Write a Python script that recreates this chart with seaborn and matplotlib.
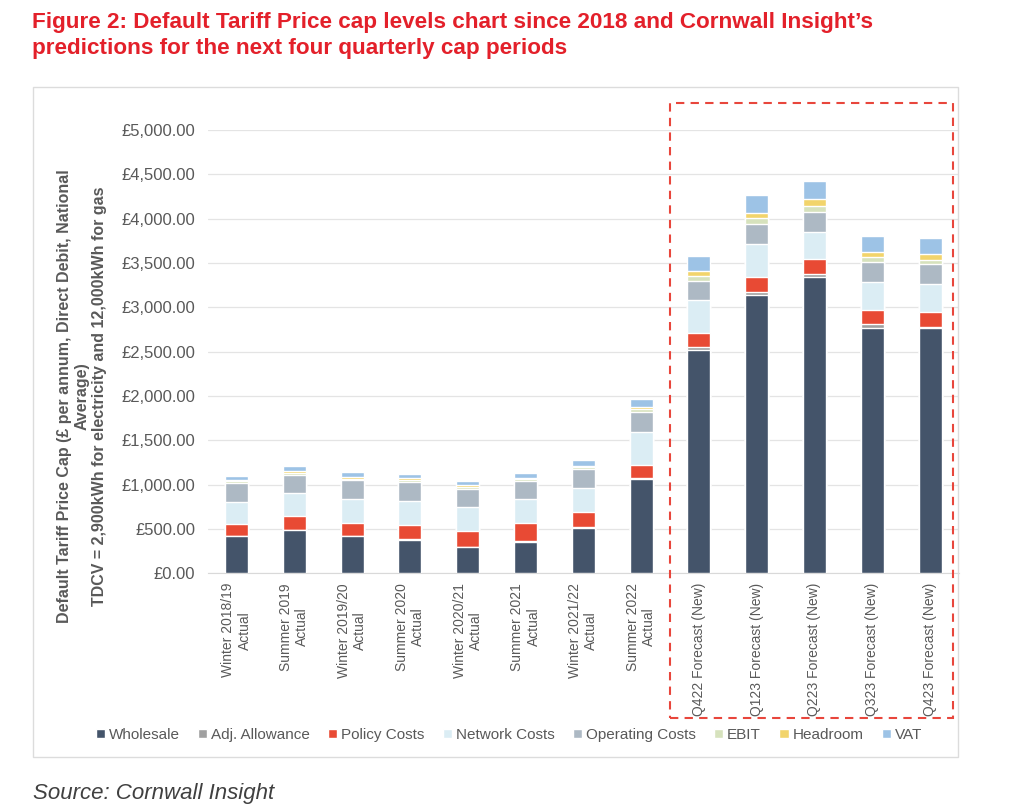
import numpy as np
import pandas as pd
import seaborn as sns
import matplotlib.pyplot as plt
from matplotlib.patches import Rectangle
from matplotlib.ticker import FuncFormatter

# cap periods (x axis)
periods = ['Winter 2018/19\nActual', 'Summer 2019\nActual', 'Winter 2019/20\nActual',
           'Summer 2020\nActual', 'Winter 2020/21\nActual', 'Summer 2021\nActual',
           'Winter 2021/22\nActual', 'Summer 2022\nActual',
           'Q422 Forecast (New)', 'Q123 Forecast (New)', 'Q223 Forecast (New)',
           'Q323 Forecast (New)', 'Q423 Forecast (New)']

# cost components, £ per annum
wholesale = [420, 488, 420, 378, 295, 355, 512, 1065, 2519, 3139, 3339, 2763, 2765]
adj_allowance = [5, 5, 5, 5, 5, 12, 7, 7, 37, 38, 34, 46, 10]
policy_costs = [131, 153, 146, 165, 181, 197, 172, 153, 158, 162, 169, 161, 169]
network_costs = [252, 256, 267, 267, 264, 271, 268, 372, 369, 376, 308, 312, 316]
operating_costs = [215, 212, 210, 215, 210, 208, 214, 219, 214, 222, 229, 226, 226]
ebit = [15, 20, 20, 22, 20, 19, 23, 34, 57, 68, 68, 56, 48]
headroom = [12, 18, 17, 18, 16, 15, 18, 25, 56, 56, 72, 64, 64]
vat = [52, 58, 54, 54, 50, 54, 61, 94, 169, 206, 210, 180, 181]

names = ['Wholesale', 'Adj. Allowance', 'Policy Costs', 'Network Costs',
         'Operating Costs', 'EBIT', 'Headroom', 'VAT']
colors = ['#44546a', '#a0a0a0', '#e84a34', '#dbedf4', '#adb9c4', '#d6e2bd', '#f2d46b', '#9dc3e6']

df = pd.DataFrame({'period': periods, 'Wholesale': wholesale, 'Adj. Allowance': adj_allowance,
                   'Policy Costs': policy_costs, 'Network Costs': network_costs,
                   'Operating Costs': operating_costs, 'EBIT': ebit,
                   'Headroom': headroom, 'VAT': vat})
cum = df[names].cumsum(axis=1)

sns.set_style('white')
plt.rcParams['font.family'] = ['Liberation Sans', 'DejaVu Sans']
grey = '#595959'

fig = plt.figure(figsize=(10.24, 8.06), dpi=100)
ax = fig.add_axes([0.2027, 0.2887, 0.7338, 0.55])

# stacked bars: draw cumulative totals from the top segment down
for name, col in reversed(list(zip(names, colors))):
    sns.barplot(x=df['period'], y=cum[name], color=col, width=0.4, saturation=1,
                label=name, ax=ax, zorder=3)

ax.set_ylim(0, 5000)
ax.set_xlim(-0.5, len(periods) - 0.5)
ax.set_yticks(range(0, 5001, 500))
ax.yaxis.set_major_formatter(FuncFormatter(lambda v, p: f'£{v:,.2f}'))
ax.grid(axis='y', color='#e4e4e4', lw=0.9, zorder=0)
ax.set_axisbelow(True)
for s in ['top', 'right', 'left']:
    ax.spines[s].set_visible(False)
ax.spines['bottom'].set_color('#d9d9d9')
ax.tick_params(axis='y', length=0, pad=9, labelsize=12, labelcolor=grey)
ax.tick_params(axis='x', length=0, pad=7)
ax.set_xlabel('')
ax.set_ylabel('')
ax.set_xticks(range(len(periods)))
ax.set_xticklabels(periods, rotation=90, fontsize=10, color=grey, va='top', ha='center')
for lbl in ax.get_xticklabels():
    lbl.set_multialignment('center')

fig.text(0.080, 0.508,
         'Default Tariff Price Cap (£ per annum, Direct Debit, National\nAverage)\n'
         'TDCV = 2,900kWh for electricity and 12,000kWh for gas',
         rotation=90, ha='center', va='center', multialignment='center',
         fontsize=11.5, weight='bold', color=grey, linespacing=1.22)

# legend in the usual order
handles, labels = ax.get_legend_handles_labels()
if ax.legend_:
    ax.legend_.remove()
fig.legend(handles[::-1], labels[::-1], loc='center', bbox_to_anchor=(0.497, 1 - 735 / 806),
           ncol=8, frameon=False, fontsize=11, handlelength=0.6, handleheight=0.6,
           handletextpad=0.25, columnspacing=1.2, labelcolor=grey)

# chart frame and forecast box
fig.add_artist(Rectangle((0.032, 0.061), 0.904, 0.831, transform=fig.transFigure,
                         fill=False, edgecolor='#dcdcdc', lw=1))
fig.add_artist(Rectangle((0.654, 0.109), 0.277, 0.763, transform=fig.transFigure,
                         fill=False, edgecolor='#e8463c', lw=1.5, linestyle=(0, (4, 3))))

fig.text(32 / 1024, 1 - 12 / 806,
         "Figure 2: Default Tariff Price cap levels chart since 2018 and Cornwall Insight’s\n"
         "predictions for the next four quarterly cap periods",
         ha='left', va='top', fontsize=16.2, weight='bold', color='#e3202a', linespacing=1.3)
fig.text(33 / 1024, 1 - 793 / 806, 'Source: Cornwall Insight', style='italic',
         fontsize=16, color='#404040', va='center', ha='left')

fig.savefig('out.png', dpi=100)
